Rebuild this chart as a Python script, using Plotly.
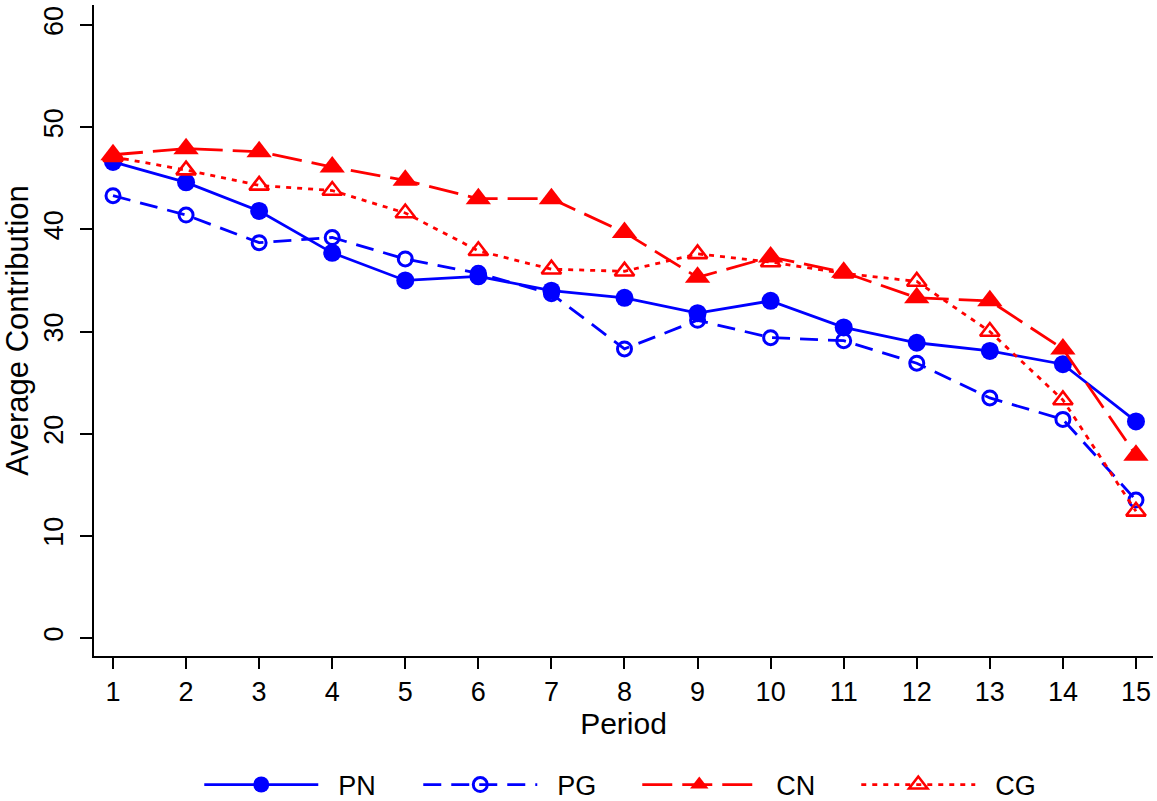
import plotly.graph_objects as go

periods = list(range(1, 16))
pn = [46.6, 44.6, 41.8, 37.7, 35.0, 35.4, 34.0, 33.3, 31.8, 33.0, 30.4, 28.9, 28.1, 26.8, 21.2]
pg = [43.3, 41.4, 38.7, 39.2, 37.1, 35.7, 33.7, 28.3, 31.1, 29.4, 29.1, 26.9, 23.5, 21.4, 13.5]
cn = [47.3, 47.9, 47.6, 46.1, 44.8, 43.0, 43.0, 39.7, 35.3, 37.3, 35.8, 33.3, 33.0, 28.3, 17.9]
cg = [47.1, 45.8, 44.3, 43.8, 41.6, 37.9, 36.1, 35.9, 37.6, 36.8, 35.7, 34.9, 30.0, 23.3, 12.4]

BLUE = "#0000ff"
RED = "#ff0000"
FONT = "Liberation Sans, Arial, sans-serif"

series = [
    ("PN", pn, BLUE, "solid", "circle", 18, 0),
    ("PG", pg, BLUE, "18px,10px", "circle-open", 14, 3),
    ("CN", cn, RED, "30px,10px", "triangle-up", 22, 0),
    ("CG", cg, RED, "5px,6px", "triangle-up-open", 17, 2.6),
]

fig = go.Figure()
for name, vals, col, dash, sym, sz, lw in series:
    fig.add_trace(go.Scatter(
        x=periods, y=vals, name="\u00a0\u00a0" + name,
        mode="lines+markers",
        line=dict(color=col, width=2.8, dash=dash),
        marker=dict(symbol=sym, size=sz, color=col,
                    line=dict(color=col, width=lw)),
    ))

fig.update_layout(
    width=1157, height=801,
    margin=dict(l=94, r=4, t=5, b=145),
    paper_bgcolor="white", plot_bgcolor="white",
    font=dict(family=FONT, color="black", size=26),
    showlegend=True,
    legend=dict(orientation="h", x=0.513, xanchor="center",
                yref="container", y=0.02, yanchor="middle",
                font=dict(size=27), itemwidth=114, entrywidth=90,
                bgcolor="rgba(0,0,0,0)"),
    xaxis=dict(range=[0.74, 15.233], tickmode="array", tickvals=periods,
               ticktext=[str(p) for p in periods],
               showline=True, linecolor="black", linewidth=2,
               ticks="outside", ticklen=11, tickwidth=2, tickcolor="black",
               showgrid=False, zeroline=False,
               tickfont=dict(size=27),
               title=dict(text="Period", font=dict(size=30), standoff=6)),
    yaxis=dict(range=[-1.76, 61.96], tickmode="array", tickvals=[0, 10, 20, 30, 40, 50, 60],
               showline=True, linecolor="black", linewidth=2,
               ticks="outside", ticklen=12, tickwidth=2, tickcolor="black",
               showgrid=False, zeroline=False, tickangle=-90,
               ticklabelstandoff=6,
               tickfont=dict(size=27),
               title=dict(text="Average Contribution", font=dict(size=31), standoff=2)),
)

fig.write_html("out.html")
